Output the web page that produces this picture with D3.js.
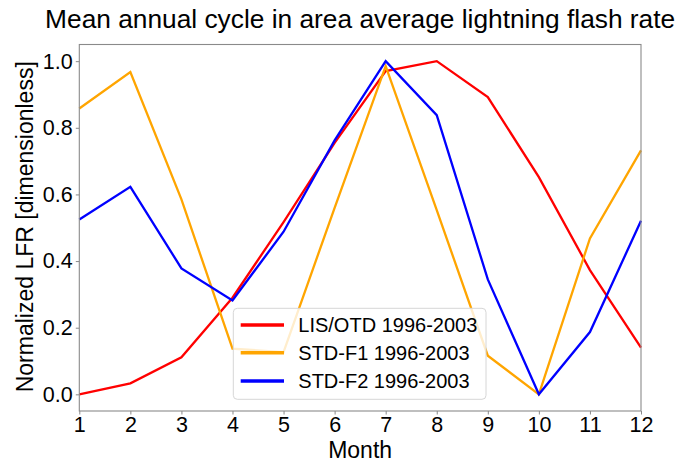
<!DOCTYPE html>
<html>
<head>
<meta charset="utf-8">
<script src="https://cdn.jsdelivr.net/npm/d3@7"></script>
<style>
  html, body { margin: 0; padding: 0; background: #fff; }
  svg { display: block; font-family: "Liberation Sans", Arial, sans-serif; }
</style>
</head>
<body>
<svg id="chart" width="684" height="462"></svg>
<script>
// Months on the x axis
const months = [1, 2, 3, 4, 5, 6, 7, 8, 9, 10, 11, 12];

// Normalized lightning flash rate per month for each dataset
const lisOtd = [0.0, 0.033, 0.111, 0.29, 0.517, 0.755, 0.97, 1.0, 0.892, 0.652, 0.373, 0.14];
const stdF1  = [0.858, 0.967, 0.585, 0.137, 0.127, 0.56, 0.985, 0.553, 0.116, 0.0, 0.468, 0.732];
const stdF2  = [0.525, 0.623, 0.378, 0.282, 0.488, 0.762, 1.0, 0.838, 0.345, 0.0, 0.187, 0.521];

const seriesNames  = ["LIS/OTD 1996-2003", "STD-F1 1996-2003", "STD-F2 1996-2003"];
const seriesColors = ["#ff0000", "#ffa500", "#0000ff"];
const seriesValues = [lisOtd, stdF1, stdF2];

const yTicks = [0.0, 0.2, 0.4, 0.6, 0.8, 1.0];

const titleText  = "Mean annual cycle in area average lightning flash rate";
const xLabelText = "Month";
const yLabelText = "Normalized LFR [dimensionless]";

const svg = d3.select("#chart");
const plot = { left: 79.3, right: 641, top: 44.5, bottom: 411 };

const x = d3.scaleLinear().domain([1, 12]).range([plot.left, plot.right]);
const y = d3.scaleLinear().domain([-0.05, 1.05]).range([plot.bottom, plot.top]);

// Title
svg.append("text")
  .attr("x", (plot.left + plot.right) / 2)
  .attr("y", 28.3)
  .attr("text-anchor", "middle")
  .attr("font-size", 26.3)
  .attr("fill", "#000")
  .text(titleText);

// Data lines
const line = d3.line()
  .x((d, i) => x(months[i]))
  .y(d => y(d));

const linesG = svg.append("g");
seriesValues.forEach((vals, k) => {
  linesG.append("path")
    .datum(vals)
    .attr("d", line)
    .attr("fill", "none")
    .attr("stroke", seriesColors[k])
    .attr("stroke-width", 2.3)
    .attr("stroke-linejoin", "miter");
});

// Axes
const spineColor = "#8a8a8a";
const xAxis = d3.axisBottom(x)
  .tickValues(months)
  .tickFormat(d3.format("d"))
  .tickSize(3.5)
  .tickSizeOuter(0)
  .tickPadding(2.2);
const yAxis = d3.axisLeft(y)
  .tickValues(yTicks)
  .tickFormat(d3.format(".1f"))
  .tickSize(3.5)
  .tickSizeOuter(0)
  .tickPadding(3.1);

const gx = svg.append("g")
  .attr("transform", `translate(0,${plot.bottom})`)
  .call(xAxis);
const gy = svg.append("g")
  .attr("transform", `translate(${plot.left},0)`)
  .call(yAxis);

[gx, gy].forEach(g => {
  g.select(".domain").remove();
  g.selectAll(".tick line").attr("stroke", spineColor).attr("stroke-width", 1);
  g.selectAll(".tick text")
    .attr("font-size", 21.5)
    .attr("font-family", "Liberation Sans, Arial, sans-serif")
    .attr("fill", "#000");
});

// Frame around the plotting area
svg.append("rect")
  .attr("x", plot.left)
  .attr("y", plot.top)
  .attr("width", plot.right - plot.left)
  .attr("height", plot.bottom - plot.top)
  .attr("fill", "none")
  .attr("stroke", spineColor)
  .attr("stroke-width", 1.1);

// Axis labels
svg.append("text")
  .attr("x", (plot.left + plot.right) / 2)
  .attr("y", 458)
  .attr("text-anchor", "middle")
  .attr("font-size", 23)
  .attr("fill", "#000")
  .text(xLabelText);

svg.append("text")
  .attr("transform", `translate(33,${(plot.top + plot.bottom) / 2 - 1}) rotate(-90)`)
  .attr("text-anchor", "middle")
  .attr("font-size", 23)
  .attr("fill", "#000")
  .text(yLabelText);

// Legend
const legend = svg.append("g");
legend.append("rect")
  .attr("x", 233.3)
  .attr("y", 308.3)
  .attr("width", 486 - 233.3)
  .attr("height", 399.3 - 308.3)
  .attr("rx", 4)
  .attr("fill", "#fff")
  .attr("fill-opacity", 0.8)
  .attr("stroke", "#d6d6d6")
  .attr("stroke-width", 1);

const rowY = [325, 352.8, 381];
seriesNames.forEach((name, k) => {
  legend.append("line")
    .attr("x1", 240.7).attr("x2", 284)
    .attr("y1", rowY[k]).attr("y2", rowY[k])
    .attr("stroke", seriesColors[k])
    .attr("stroke-width", 3.5);
  legend.append("text")
    .attr("x", 298.3)
    .attr("y", rowY[k])
    .attr("dy", "0.36em")
    .attr("font-size", 20)
    .attr("fill", "#000")
    .text(name);
});
</script>
</body>
</html>
